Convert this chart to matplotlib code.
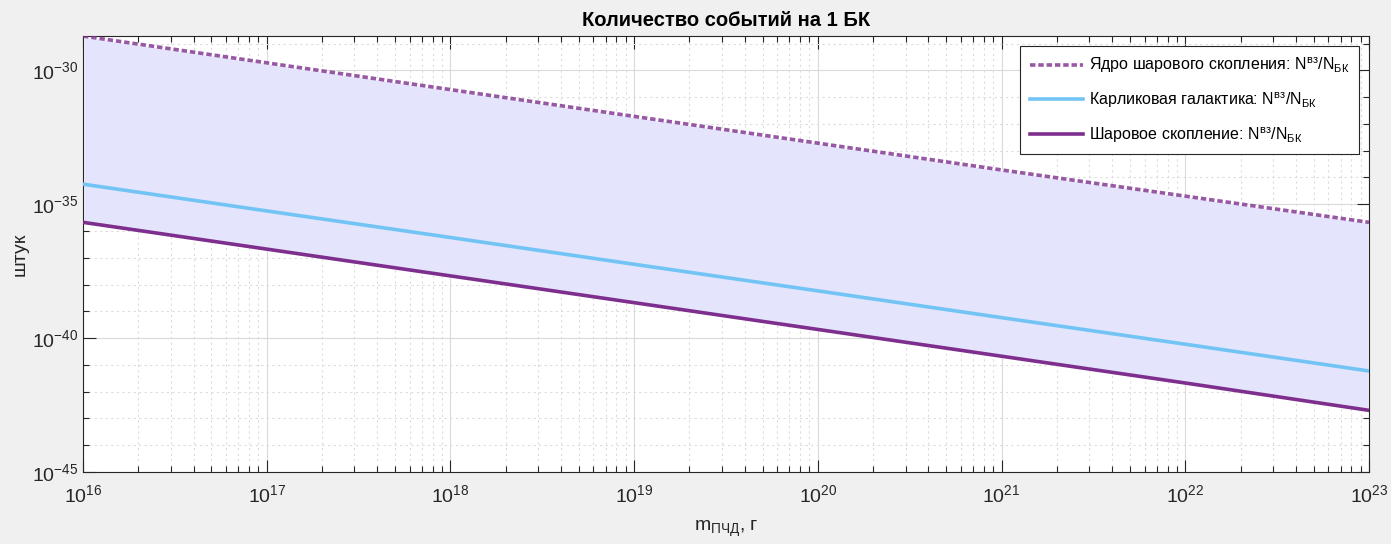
import numpy as np
import matplotlib
matplotlib.use("Agg")
import matplotlib.pyplot as plt
from matplotlib.ticker import FixedLocator, LogFormatterSciNotation, NullFormatter

plt.rcParams['font.family'] = ['Liberation Sans', 'DejaVu Sans']
plt.rcParams['mathtext.default'] = 'regular'

# data
mass = [1e16, 1e17, 1e18, 1e19, 1e20, 1e21, 1e22, 1e23]
core_gc = [1.9e-29, 1.9e-30, 1.9e-31, 1.9e-32, 1.9e-33, 1.9e-34, 2.0e-35, 2.1e-36]
dwarf_gal = [5.6e-35, 5.6e-36, 5.7e-37, 5.7e-38, 5.8e-39, 5.8e-40, 5.9e-41, 5.9e-42]
globular = [2.1e-36, 2.1e-37, 2.1e-38, 2.1e-39, 2.1e-40, 2.1e-41, 2.1e-42, 2.0e-43]

labels = ['Ядро шарового скопления: N$^{вз}$/N$_{БК}$',
          'Карликовая галактика: N$^{вз}$/N$_{БК}$',
          'Шаровое скопление: N$^{вз}$/N$_{БК}$']
title = 'Количество событий на 1 БК'
xlabel = 'm$_{ПЧД}$, г'
ylabel = 'штук'
xmajor = mass
ymajor = [1e-45, 1e-40, 1e-35, 1e-30]
yminor = [10.0 ** k for k in range(-45, -28)]
xminor = [s * 10.0 ** k for k in range(16, 23) for s in range(2, 10)]

axc = '#262626'
purple = '#7E2F8E'
cyan = '#72C4F5'
fillc = '#E4E4FC'

fig = plt.figure(figsize=(13.91, 5.44), dpi=100, facecolor='#F0F0F0')
ax = fig.add_axes([0.0597, 0.1324, 0.9245, 0.8014])
ax.set_facecolor('white')

ax.fill_between(mass, globular, core_gc, facecolor=fillc, edgecolor='white', linewidth=1.5, zorder=1)
ax.plot(mass, core_gc, color=purple, lw=2.6, ls=(0, (1.5, 0.8)), label=labels[0], zorder=3, alpha=0.8)
ax.plot(mass, dwarf_gal, '-', color=cyan, lw=2.6, label=labels[1], zorder=3)
ax.plot(mass, globular, '-', color=purple, lw=2.6, label=labels[2], zorder=3)

ax.set_xscale('log')
ax.set_yscale('log')
ax.set_xlim(1e16, 1e23)
ax.set_ylim(1e-45, 10 ** -28.72)

ax.xaxis.set_major_locator(FixedLocator(xmajor))
ax.xaxis.set_minor_locator(FixedLocator(xminor))
ax.xaxis.set_major_formatter(LogFormatterSciNotation())
ax.xaxis.set_minor_formatter(NullFormatter())
ax.yaxis.set_major_locator(FixedLocator(ymajor))
ax.yaxis.set_minor_locator(FixedLocator(yminor))
ax.yaxis.set_major_formatter(LogFormatterSciNotation())
ax.yaxis.set_minor_formatter(NullFormatter())

ax.grid(True, which='major', color='#DADADA', lw=0.8, ls='-', zorder=0)
ax.grid(True, which='minor', color='#DCDCDC', lw=0.8, ls=(0, (2, 3)), zorder=0)
ax.set_axisbelow(True)

ax.tick_params(which='both', direction='in', top=True, right=True, colors=axc, labelsize=14)
ax.tick_params(which='major', length=9, width=0.8)
ax.tick_params(which='minor', length=4.5, width=0.8)
ax.tick_params(axis='x', pad=9)
for s in ax.spines.values():
    s.set_color(axc)
    s.set_linewidth(0.8)

ax.set_title(title, fontsize=14.5, fontweight='bold', color='black', pad=7)
ax.set_xlabel(xlabel, fontsize=14, color=axc, labelpad=9)
ax.set_ylabel(ylabel, fontsize=14, color=axc, labelpad=2)

leg = ax.legend(loc='upper right', bbox_to_anchor=(0.9922, 0.977), borderaxespad=0, fontsize=11.5,
                frameon=True, fancybox=False, edgecolor=axc, framealpha=1,
                handlelength=3.3, handletextpad=0.4, labelspacing=0.95, borderpad=0.6)
leg.get_frame().set_linewidth(0.8)

fig.savefig('out.png', dpi=100, facecolor=fig.get_facecolor())
